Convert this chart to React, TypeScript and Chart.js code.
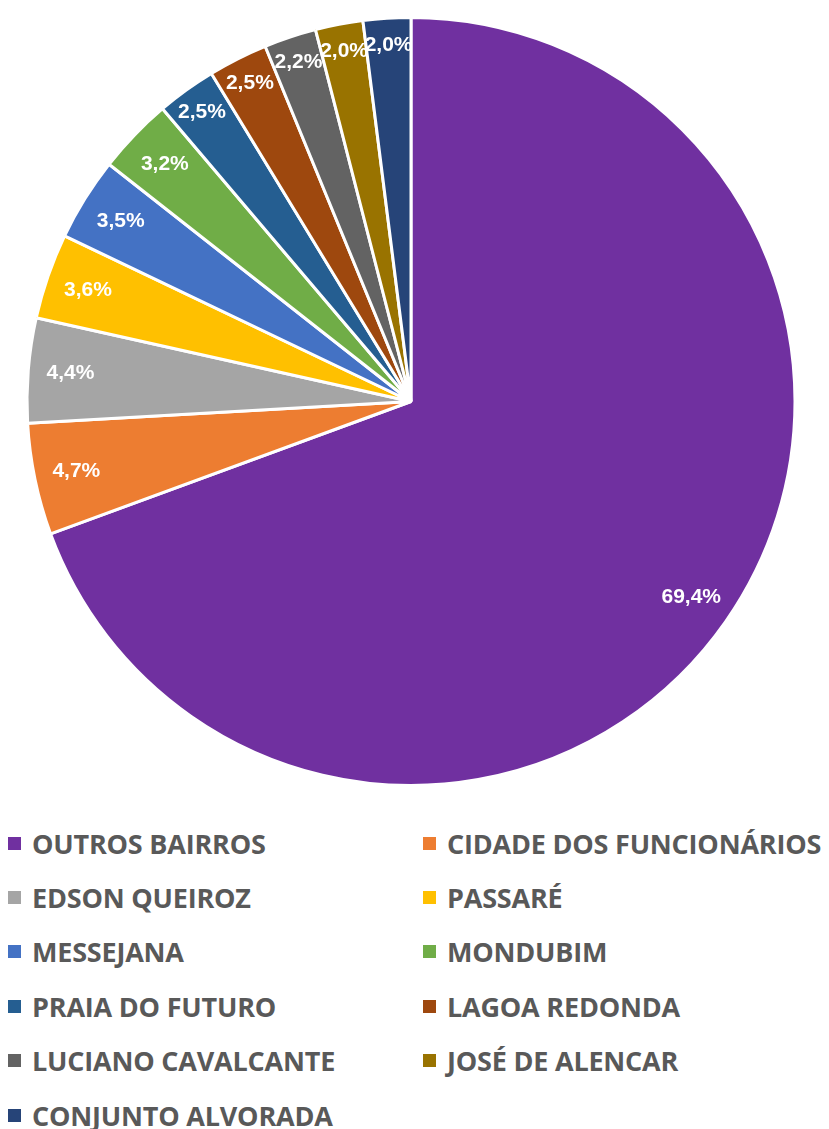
import React, { useEffect, useRef } from "react";
import { Chart, registerables } from "chart.js";

Chart.register(...registerables);

const categories = [
  "OUTROS BAIRROS",
  "CIDADE DOS FUNCIONÁRIOS",
  "EDSON QUEIROZ",
  "PASSARÉ",
  "MESSEJANA",
  "MONDUBIM",
  "PRAIA DO FUTURO",
  "LAGOA REDONDA",
  "LUCIANO CAVALCANTE",
  "JOSÉ DE ALENCAR",
  "CONJUNTO ALVORADA",
];

const values = [69.4, 4.7, 4.4, 3.6, 3.5, 3.2, 2.5, 2.5, 2.2, 2.0, 2.0];

const colors = [
  "#7030A0",
  "#ED7D31",
  "#A5A5A5",
  "#FFC000",
  "#4472C4",
  "#70AD47",
  "#255E91",
  "#9E480E",
  "#636363",
  "#997300",
  "#264478",
];

const fmt = (v: number) => v.toFixed(1).replace(".", ",") + "%";

const labelPlugin = {
  id: "sliceLabels",
  afterDatasetsDraw(chart: any) {
    const ctx = chart.ctx;
    const meta = chart.getDatasetMeta(0);
    ctx.save();
    ctx.fillStyle = "#FFFFFF";
    ctx.font = 'bold 21px "Liberation Sans", Arial, sans-serif';
    ctx.textAlign = "center";
    ctx.textBaseline = "middle";
    meta.data.forEach((arc: any, i: number) => {
      const p = arc.getProps(["x", "y", "startAngle", "endAngle", "outerRadius"], true);
      const mid = (p.startAngle + p.endAngle) / 2;
      const frac = values[i] < 3 ? 0.93 : 0.89;
      const r = p.outerRadius * frac;
      ctx.fillText(fmt(values[i]), p.x + Math.cos(mid) * r, p.y + Math.sin(mid) * r);
    });
    ctx.restore();
  },
};

export default function App() {
  const ref = useRef<HTMLCanvasElement | null>(null);
  useEffect(() => {
    if (!ref.current) return;
    const chart = new Chart(ref.current, {
      type: "pie",
      data: {
        labels: categories,
        datasets: [
          {
            data: values,
            backgroundColor: colors,
            borderColor: "#FFFFFF",
            borderWidth: 3,
          },
        ],
      },
      options: {
        animation: false,
        responsive: false,
        layout: { padding: { top: 8, bottom: 11, left: 0, right: 7 } },
        plugins: {
          legend: { display: false },
          tooltip: { enabled: false },
        },
      },
      plugins: [labelPlugin],
    });
    return () => chart.destroy();
  }, []);

  return (
    <div style={{ width: 813, fontFamily: '"Open Sans", sans-serif' }}>
      <canvas ref={ref} width={813} height={790} style={{ display: "block" }} />
      <div
        style={{
          display: "grid",
          gridTemplateColumns: "415px 398px",
          gridAutoRows: "54.4px",
          marginTop: 18,
        }}
      >
        {categories.map((c, i) => (
          <div
            key={c}
            style={{
              display: "flex",
              alignItems: "center",
              whiteSpace: "nowrap",
              fontWeight: 700,
              fontSize: 27,
              letterSpacing: -0.2,
              color: "#595959",
            }}
          >
            <span
              style={{
                display: "inline-block",
                width: 13,
                height: 13,
                background: colors[i],
                marginRight: 11,
                flex: "none",
              }}
            />
            {c}
          </div>
        ))}
      </div>
    </div>
  );
}
